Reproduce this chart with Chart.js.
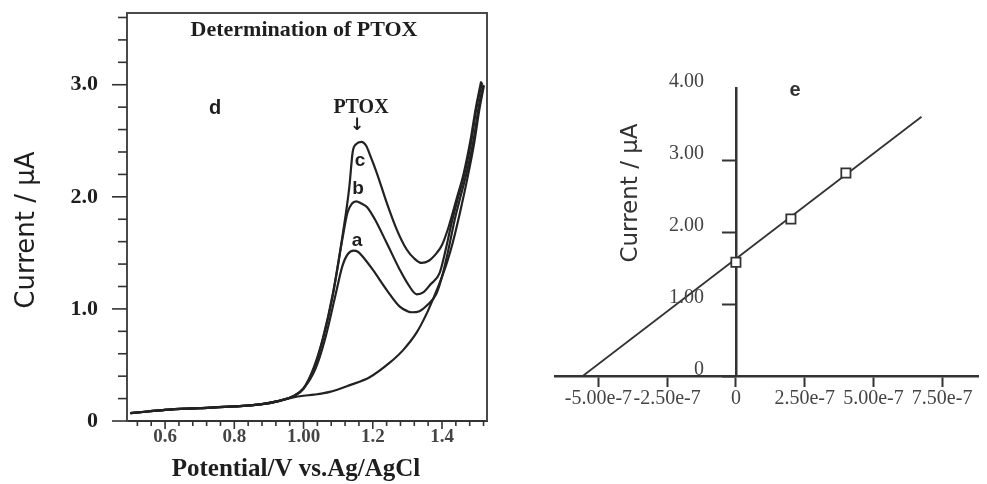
<!DOCTYPE html>
<html><head><meta charset="utf-8">
<script src="https://cdn.jsdelivr.net/npm/chart.js@4.4.1/dist/chart.umd.min.js"></script>
<style>
html,body{margin:0;padding:0;background:#fff;width:987px;height:484px;overflow:hidden;}
#left{position:absolute;left:0;top:0;}
#right{position:absolute;left:520px;top:0;}
</style></head><body>
<canvas id="left" width="510" height="484"></canvas>
<canvas id="right" width="467" height="484"></canvas>
<script>
// ---------- Left panel: voltammograms ----------
const potA = [0.50,0.55,0.60,0.70,0.80,0.88,0.93,0.97,1.00,1.035,1.062,1.092,1.112,1.128,1.145,1.157,1.170,1.200,1.240,1.278,1.300,1.313,1.335,1.356,1.383,1.402,1.420,1.437,1.455,1.474,1.492,1.507,1.520];
const curA = [0.07,0.085,0.10,0.115,0.13,0.15,0.18,0.22,0.29,0.47,0.73,1.12,1.38,1.49,1.52,1.51,1.47,1.35,1.17,1.02,0.98,0.97,0.98,1.03,1.13,1.31,1.55,1.80,2.02,2.25,2.52,2.82,3.00];
const potB = [0.50,0.55,0.60,0.70,0.80,0.88,0.93,0.97,1.00,1.03,1.056,1.085,1.112,1.127,1.140,1.152,1.167,1.183,1.206,1.240,1.278,1.300,1.327,1.347,1.367,1.393,1.410,1.428,1.447,1.466,1.485,1.500,1.516];
const curB = [0.07,0.085,0.10,0.115,0.13,0.15,0.18,0.22,0.29,0.47,0.73,1.13,1.62,1.86,1.94,1.96,1.94,1.91,1.80,1.59,1.35,1.23,1.13,1.15,1.22,1.32,1.52,1.77,2.00,2.22,2.50,2.80,3.02];
const potC = [0.50,0.55,0.60,0.70,0.80,0.88,0.93,0.97,1.00,1.03,1.056,1.085,1.114,1.132,1.142,1.152,1.167,1.180,1.195,1.212,1.240,1.269,1.298,1.320,1.341,1.362,1.385,1.400,1.420,1.442,1.462,1.482,1.497,1.513];
const curC = [0.07,0.085,0.10,0.115,0.13,0.15,0.18,0.22,0.29,0.48,0.74,1.14,1.68,2.08,2.40,2.47,2.49,2.46,2.35,2.21,1.95,1.71,1.53,1.45,1.41,1.43,1.50,1.57,1.74,1.98,2.20,2.50,2.78,3.03];
const potBlank = [0.50,0.55,0.60,0.70,0.80,0.88,0.93,0.97,1.00,1.03,1.076,1.134,1.191,1.249,1.287,1.327,1.356,1.373,1.393,1.414,1.431,1.452,1.473,1.493,1.508,1.521];
const curBlank = [0.07,0.085,0.10,0.115,0.13,0.15,0.18,0.21,0.225,0.235,0.26,0.32,0.39,0.52,0.63,0.79,0.96,1.08,1.23,1.41,1.59,1.86,2.16,2.48,2.78,2.99];

const xMajorL = [0.6,0.8,1.0,1.2,1.4];
const xLabelsL = ["0.6","0.8","1.00","1.2","1.4"];
const xMinorL = [0.52,0.56,0.6,0.64,0.68,0.72,0.76,0.8,0.84,0.88,0.92,0.96,1.0,1.04,1.08,1.12,1.16,1.2,1.24,1.28,1.32,1.36,1.4,1.44,1.48,1.52];
const yMajorL = [0,1,2,3];
const yLabelsL = ["0","1.0","2.0","3.0"];
const yMinorL = [0,0.2,0.4,0.6,0.8,1,1.2,1.4,1.6,1.8,2,2.2,2.4,2.6,2.8,3,3.2,3.4,3.6];

// ---------- Right panel: standard addition plot ----------
const concR = [0, 2e-7, 4e-7];
const currR = [1.58, 2.18, 2.82];
const fitX = [-5.57e-7, 6.75e-7];
const fitY = [0, 3.6];
const xTicksR = [-5e-7,-2.5e-7,0,2.5e-7,5e-7,7.5e-7];
const xLabelsR = ["-5.00e-7","-2.50e-7","0","2.50e-7","5.00e-7","7.50e-7"];
const yTicksR = [0,1,2,3,4];
const yLabelsR = ["0","1.00","2.00","3.00","4.00"];

const zip = (xs, ys) => xs.map((v, i) => ({x: v, y: ys[i]}));

function curve(label, xs, ys) {
  return {label, data: zip(xs, ys), borderColor:'#222', borderWidth:2.2, pointRadius:0,
          cubicInterpolationMode:'monotone', fill:false};
}

const leftDecor = {
  id:'leftDecor',
  afterDraw(chart){
    const {ctx, chartArea:a, scales:{x, y}} = chart;
    ctx.save();
    ctx.strokeStyle = '#4a4a4a'; ctx.lineWidth = 2;
    ctx.beginPath(); ctx.moveTo(a.left, a.top); ctx.lineTo(a.right, a.top); ctx.lineTo(a.right, a.bottom); ctx.stroke();
    ctx.strokeStyle = '#333'; ctx.lineWidth = 1.6;
    yMinorL.forEach(v => {
      const p = y.getPixelForValue(v); const len = yMajorL.includes(v) ? 15 : 9;
      ctx.beginPath(); ctx.moveTo(a.left - len, p); ctx.lineTo(a.left, p); ctx.stroke();
    });
    xMinorL.forEach(v => {
      const p = x.getPixelForValue(v); const len = xMajorL.includes(v) ? 8 : 5;
      ctx.beginPath(); ctx.moveTo(p, a.bottom); ctx.lineTo(p, a.bottom + len); ctx.stroke();
    });
    ctx.fillStyle = '#1e1e1e';
    ctx.textAlign = 'center'; ctx.textBaseline = 'middle';
    ctx.font = 'bold 22px "Liberation Serif"';
    ctx.fillText('Determination of PTOX', 304, 30);
    ctx.font = 'bold 20px "Liberation Serif"';
    ctx.fillText('PTOX', 361, 108);
    ctx.font = 'bold 17px "DejaVu Sans"';
    ctx.fillText('\u2193', 357, 126);
    ctx.font = 'bold 20px "Liberation Sans"';
    ctx.fillText('d', 215, 108);
    ctx.font = 'bold 19px "Liberation Sans"';
    ctx.fillText('c', 360, 161);
    ctx.fillText('b', 358, 189);
    ctx.fillText('a', 357, 241);
    ctx.font = 'bold 25px "Liberation Serif"';
    ctx.fillText('Potential/V vs.Ag/AgCl', 296, 470);
    ctx.save();
    ctx.translate(27, 230); ctx.rotate(-Math.PI / 2);
    ctx.font = '26px "DejaVu Sans"';
    ctx.fillText('Current / \u00b5A', 0, 0);
    ctx.restore();
    ctx.restore();
  }
};

new Chart(document.getElementById('left'), {
  type: 'line',
  data: { datasets: [
    curve('a', potA, curA),
    curve('b', potB, curB),
    curve('c', potC, curC),
    curve('blank', potBlank, curBlank)
  ]},
  options: {
    responsive:false, animation:false,
    layout:{padding:{left:0, right:23, top:13, bottom:0}},
    plugins:{legend:{display:false}, tooltip:{enabled:false}, title:{display:false}},
    scales:{
      x:{type:'linear', min:0.49, max:1.53,
        afterBuildTicks: s => { s.ticks = xMajorL.map(v => ({value:v})); },
        afterFit: s => { s.height = 63; s.paddingLeft = 0; s.paddingRight = 0; },
        grid:{drawOnChartArea:false, drawTicks:false},
        border:{display:true, color:'#333', width:2},
        ticks:{autoSkip:false, maxRotation:0, padding:5, color:'#444',
          font:{family:'Liberation Serif', weight:'bold', size:19},
          callback:(v, i) => xLabelsL[i]}
      },
      y:{type:'linear', min:0, max:3.64,
        afterBuildTicks: s => { s.ticks = yMajorL.map(v => ({value:v})); },
        afterFit: s => { s.width = 127; s.paddingTop = 0; s.paddingBottom = 0; },
        grid:{drawOnChartArea:false, drawTicks:false},
        border:{display:true, color:'#4a4a4a', width:2},
        ticks:{autoSkip:false, padding:29, color:'#1e1e1e',
          font:{family:'Liberation Serif', weight:'bold', size:22},
          callback:(v, i) => yLabelsL[i]}
      }
    }
  },
  plugins:[leftDecor]
});

const rightDecor = {
  id:'rightDecor',
  afterDraw(chart){
    const {ctx, scales:{x, y}} = chart;
    ctx.save();
    ctx.fillStyle = '#444'; ctx.textAlign = 'right'; ctx.textBaseline = 'middle';
    ctx.font = '20px "Liberation Serif"';
    const ax = x.getPixelForValue(0);
    yTicksR.forEach((v, i) => {
      ctx.fillText(yLabelsR[i], ax - 32, y.getPixelForValue(v) - 6);
    });
    ctx.fillStyle = '#333'; ctx.textAlign = 'center';
    ctx.font = 'bold 20px "Liberation Sans"';
    ctx.fillText('e', 275, 90);
    ctx.translate(111, 193); ctx.rotate(-Math.PI / 2);
    ctx.font = '23px "DejaVu Sans"';
    ctx.fillText('Current / \u00b5A', 0, 0);
    ctx.restore();
  }
};

new Chart(document.getElementById('right'), {
  type: 'scatter',
  data: { datasets: [
    {label:'data', data: zip(concR, currR), pointStyle:'rect', pointRadius:6.5,
     pointBorderColor:'#333', pointBackgroundColor:'#fff', pointBorderWidth:1.8, showLine:false, order:0},
    {label:'fit', data: zip(fitX, fitY), showLine:true, borderColor:'#333', borderWidth:1.8,
     pointRadius:0, order:1}
  ]},
  options: {
    responsive:false, animation:false,
    layout:{padding:{left:35, right:2, top:88, bottom:0}},
    plugins:{legend:{display:false}, tooltip:{enabled:false}},
    scales:{
      x:{type:'linear', min:-6.58e-7, max:8.83e-7,
        afterBuildTicks: s => { s.ticks = xTicksR.map(v => ({value:v})); },
        afterFit: s => { s.height = 108; s.paddingLeft = 0; s.paddingRight = 0; },
        grid:{drawOnChartArea:false, drawTicks:true, tickLength:11, tickWidth:2, tickColor:'#333'},
        border:{display:true, color:'#333', width:2.5},
        ticks:{autoSkip:false, maxRotation:0, padding:0, color:'#444',
          font:{family:'Liberation Serif', size:20},
          callback:(v, i) => xLabelsR[i]}
      },
      y:{type:'linear', min:0, max:4, position:{x:0},
        afterBuildTicks: s => { s.ticks = yTicksR.map(v => ({value:v})); },
        afterFit: s => { s.paddingTop = 0; s.paddingBottom = 0; },
        grid:{drawOnChartArea:false, drawTicks:true, tickLength:13, tickWidth:2,
          tickColor: c => (c.tick && c.tick.value === 4) ? 'rgba(0,0,0,0)' : '#333'},
        border:{display:true, color:'#333', width:2.5},
        ticks:{display:false}
      }
    }
  },
  plugins:[rightDecor]
});
</script></body></html>
